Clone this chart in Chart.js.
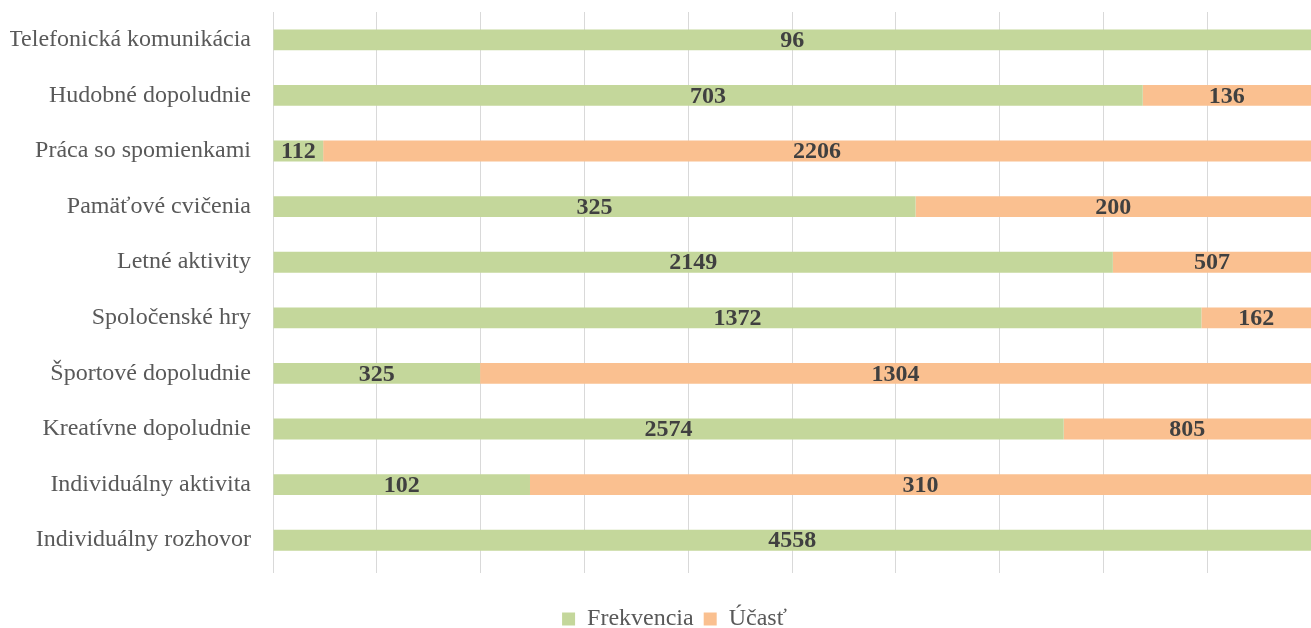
<!DOCTYPE html>
<html>
<head>
<meta charset="utf-8">
<script src="https://cdn.jsdelivr.net/npm/chart.js@4.4.0/dist/chart.umd.min.js"></script>
<style>
  html, body { margin: 0; padding: 0; background: #fff; }
  #wrap { width: 1311px; height: 628px; }
</style>
</head>
<body>
<div id="wrap"><canvas id="chart"></canvas></div>
<script>
const categories = [
    'Telefonická komunikácia',
    'Hudobné dopoludnie',
    'Práca so spomienkami',
    'Pamäťové cvičenia',
    'Letné aktivity',
    'Spoločenské hry',
    'Športové dopoludnie',
    'Kreatívne dopoludnie',
    'Individuálny aktivita',
    'Individuálny rozhovor'
];
const frekvencia = [96, 703, 112, 325, 2149, 1372, 325, 2574, 102, 4558];
const ucast = [0, 136, 2206, 200, 507, 162, 1304, 805, 310, 0];

// 100 % stacked: share of each row
const toPct = (arr) => arr.map((v, i) => v / (frekvencia[i] + ucast[i]) * 100);
const raws = [frekvencia, ucast];

const fontFamily = '"Liberation Serif", "Times New Roman", serif';

const valueLabels = {
    id: 'valueLabels',
    afterLayout(chart) {
        // legend sits a bit right of centre in the original
        chart.legend.left += 14;
        chart.legend.right += 14;
    },
    afterDatasetsDraw(chart) {
        const ctx = chart.ctx;
        ctx.save();
        ctx.font = 'bold 24px ' + fontFamily;
        ctx.fillStyle = '#404040';
        ctx.textAlign = 'center';
        ctx.textBaseline = 'middle';
        chart.data.datasets.forEach((ds, di) => {
            const meta = chart.getDatasetMeta(di);
            meta.data.forEach((bar, i) => {
                const v = raws[di][i];
                if (!v) return;
                const p = bar.getProps(['x', 'y', 'base'], true);
                ctx.fillText(String(v), (p.x + p.base) / 2, p.y + 1);
            });
        });
        ctx.restore();
    }
};

const ctx = document.getElementById('chart').getContext('2d');
const chart = new Chart(ctx, {
    type: 'bar',
    data: {
        labels: categories,
        datasets: [{
            label: 'Frekvencia',
            data: toPct(frekvencia),
            backgroundColor: '#C4D79B',
            barPercentage: 0.75,
            categoryPercentage: 0.5
        }, {
            label: 'Účasť',
            data: toPct(ucast),
            backgroundColor: '#FAC090',
            barPercentage: 0.75,
            categoryPercentage: 0.5
        }]
    },
    options: {
        indexAxis: 'y',
        responsive: true,
        maintainAspectRatio: false,
        animation: false,
        layout: { padding: { top: 12, left: 10, right: 0, bottom: -13 } },
        scales: {
            x: {
                stacked: true,
                min: 0,
                max: 100,
                ticks: { display: false, stepSize: 10 },
                grid: { color: '#d9d9d9', lineWidth: 1, tickLength: 5 },
                border: { display: false },
                afterFit(scale) { scale.height = 29; }
            },
            y: {
                stacked: true,
                grid: { display: false, drawTicks: false },
                border: { display: false },
                ticks: {
                    color: '#595959',
                    padding: 22,
                    font: { family: fontFamily, size: 24 }
                },
                afterFit(scale) {
                    scale.width = 263;
                    scale.paddingTop = 0;
                    scale.paddingBottom = 0;
                }
            }
        },
        plugins: {
            legend: {
                position: 'bottom',
                labels: {
                    color: '#595959',
                    boxWidth: 13,
                    boxHeight: 13,
                    padding: 10,
                    font: { family: fontFamily, size: 24 }
                }
            },
            tooltip: { enabled: false }
        }
    },
    plugins: [valueLabels]
});
</script>
</body>
</html>
